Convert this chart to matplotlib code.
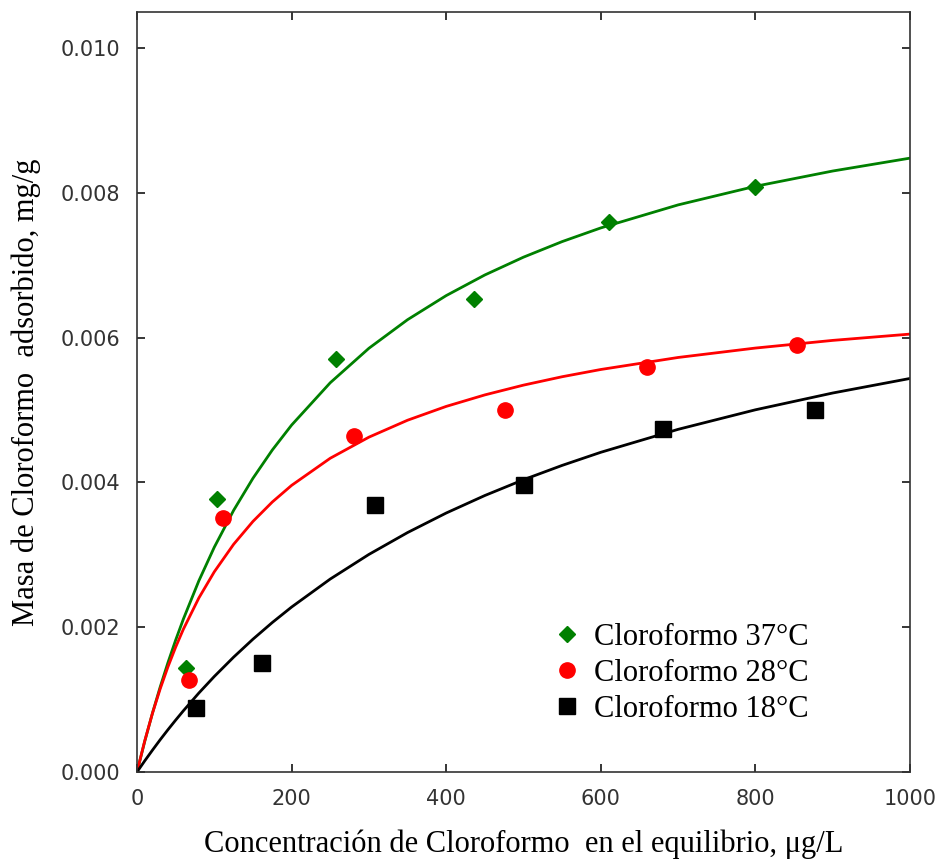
import matplotlib
matplotlib.use("Agg")
import matplotlib.pyplot as plt

# Experimental points
x37 = [63, 103, 257, 436, 611, 800]
y37 = [0.00144, 0.00377, 0.00570, 0.00653, 0.00760, 0.00808]
x28 = [67, 111, 281, 476, 660, 854]
y28 = [0.00127, 0.00351, 0.00464, 0.00500, 0.00559, 0.00590]
x18 = [76, 162, 308, 501, 680, 877]
y18 = [0.00088, 0.00151, 0.00369, 0.00396, 0.00474, 0.00500]

# Fitted curves, values read along x
cx = [0, 10, 20, 30, 40, 50, 60, 80, 100, 125, 150, 175, 200, 250, 300, 350,
      400, 450, 500, 550, 600, 700, 800, 900, 1000]
c37 = [0, 0.000423, 0.000814, 0.001175, 0.001510, 0.001822, 0.002113, 0.002641,
       0.003106, 0.003615, 0.004058, 0.004448, 0.004793, 0.005378, 0.005854,
       0.006249, 0.006582, 0.006867, 0.007113, 0.007328, 0.007517, 0.007835,
       0.008092, 0.008303, 0.008481]
c28 = [0, 0.000430, 0.000811, 0.001149, 0.001452, 0.001725, 0.001973, 0.002404,
       0.002766, 0.003146, 0.003462, 0.003730, 0.003960, 0.004335, 0.004626,
       0.004860, 0.005051, 0.005210, 0.005345, 0.005461, 0.005561, 0.005727,
       0.005857, 0.005963, 0.006050]
c18 = [0, 0.000154, 0.000302, 0.000446, 0.000584, 0.000717, 0.000846, 0.001091,
       0.001320, 0.001587, 0.001835, 0.002065, 0.002279, 0.002666, 0.003006,
       0.003308, 0.003578, 0.003820, 0.004038, 0.004236, 0.004417, 0.004734,
       0.005004, 0.005236, 0.005437]

labels = ["Cloroformo 37°C", "Cloroformo 28°C", "Cloroformo 18°C"]
xticks = [0, 200, 400, 600, 800, 1000]
yticks = [0.000, 0.002, 0.004, 0.006, 0.008, 0.010]

fig = plt.figure(figsize=(9.43, 8.63), dpi=100)
ax = fig.add_axes([137/943, 91/863, (910-137)/943, (772-12)/863])

ax.plot(cx, c37, color="green", lw=2.0, zorder=2)
ax.plot(cx, c28, color="red", lw=2.0, zorder=2)
ax.plot(cx, c18, color="black", lw=2.0, zorder=2)

ax.plot(x37, y37, linestyle="none", marker="D", ms=8.5, color="green", label=labels[0], zorder=3)
ax.plot(x28, y28, linestyle="none", marker="o", ms=11, color="red", label=labels[1], zorder=3)
ax.plot(x18, y18, linestyle="none", marker="s", ms=11.5, color="black", label=labels[2], zorder=3)

ax.set_xlim(0, 1000)
ax.set_ylim(0, 0.0105)
ax.set_xticks(xticks)
ax.set_yticks(yticks)
ax.set_xticklabels([str(t) for t in xticks])
ax.set_yticklabels([f"{t:.3f}" for t in yticks])
ax.tick_params(direction="in", length=6, width=1.1, top=True, right=True,
               labelsize=15, pad=12, colors="black", labelcolor="#333333")
for lab in ax.get_xticklabels() + ax.get_yticklabels():
    lab.set_family("DejaVu Sans")
for s in ax.spines.values():
    s.set_linewidth(1.2)
    s.set_color("#333333")

serif = "Liberation Serif"
ax.set_xlabel("Concentración de Cloroformo  en el equilibrio, μg/L",
              family=serif, fontsize=22, labelpad=15)
ax.set_ylabel("Masa de Cloroformo  adsorbido, mg/g", family=serif, fontsize=22, labelpad=14)

leg = ax.legend(loc="upper left", bbox_to_anchor=(552/943, 1 - 623/863),
                bbox_transform=fig.transFigure, frameon=False,
                prop={"family": serif, "size": 22}, handlelength=1.0,
                handletextpad=0.38, labelspacing=0.23, borderaxespad=0, borderpad=0)

fig.savefig("out.png", dpi=100)
